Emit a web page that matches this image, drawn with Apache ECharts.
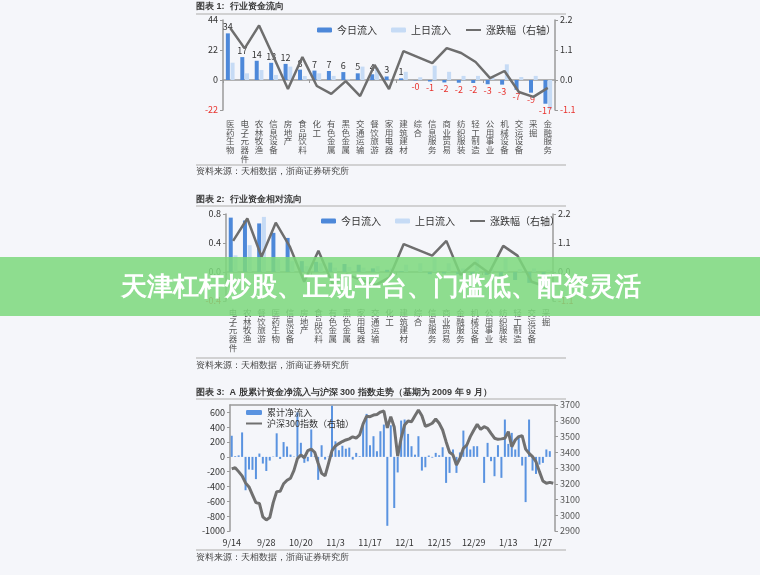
<!DOCTYPE html>
<html><head><meta charset="utf-8">
<script src="https://cdn.jsdelivr.net/npm/echarts@6/dist/echarts.min.js"></script>
<style>html,body{margin:0;padding:0;background:#f5f6fa;}#c{width:760px;height:575px;}</style>
</head><body><div id="c"></div>
<script>
const FONT = '"Noto Sans CJK SC","Noto Sans",sans-serif';
const RED = '#e8322d';
const DARK = '#4d88d9';
const LIGHT = '#c6dbf5';
const LINEC = '#6e6e6e';

// ---- Chart 1: 行业资金流向 ----
const cat1 = ['医药生物','电子元器件','农林牧渔','信息设备','房地产','食品饮料','化工','有色金属','黑色金属','交通运输','餐饮旅游','家用电器','建筑建材','综合','信息服务','商业贸易','纺织服装','轻工制造','公用事业','机械设备','交运设备','采掘','金融服务'];
const today1 = [34.2,16.8,14.1,12.6,11.8,7.6,6.9,6.6,5.8,4.9,4.2,2.6,1.2,-0.3,-1.1,-1.8,-2.0,-2.2,-3.1,-3.4,-7.2,-9.3,-17.4];
const prev1 = [12.7,4.9,7.3,3.7,9.8,2.9,4.9,3.0,0.5,9.8,9.0,0.4,6.0,2.0,10.5,6.0,3.0,3.0,2.0,11.5,2.2,3.0,-21.5];
const chg1 = [1.91,1.16,2.0,0.85,-0.33,0.84,-0.22,-0.51,-0.04,-0.59,0.55,-0.33,1.06,0.84,0.62,1.17,0.99,0.66,0.07,0.33,-0.44,-0.62,-0.29];
const left1 = [-22, 44, 22];
const right1 = [-1.1, 2.2, 1.1];

// ---- Chart 2: 行业资金相对流向 ----
const cat2 = ['电子元器件','农林牧渔','餐饮旅游','医药生物','信息设备','房地产','食品饮料','有色金属','黑色金属','家用电器','交通运输','化工','建筑建材','综合','信息服务','商业贸易','金融服务','机械设备','公用事业','纺织服装','轻工制造','交运设备','采掘'];
const today2 = [0.75,0.71,0.67,0.54,0.47,0.15,0.14,0.13,0.11,0.10,0.05,0.03,0.01,0.00,-0.03,-0.02,-0.03,-0.03,-0.04,-0.06,-0.11,-0.15,-0.20];
const prev2 = [0.23,0.37,0.76,0.18,0.15,0.08,0.12,0.06,0.07,0.06,0.08,0.05,0.10,0.12,0.20,0.12,0.05,0.17,0.04,0.19,0.04,0.05,0.03];
const chg2 = [1.18,2.03,0.58,1.87,0.95,-0.37,0.81,-0.45,-0.10,-0.30,-0.50,-0.20,1.06,0.84,0.62,1.18,-0.11,0.35,-0.04,0.99,0.62,-0.37,-0.56];
const left2 = [-0.4, 0.8, 0.4];
const right2 = [-1.1, 2.2, 1.1];

// ---- Chart 3: A股累计资金净流入与沪深300 ----
const dates3 = ['9/14','9/15','9/16','9/17','9/18','9/21','9/22','9/23','9/24','9/25',
 '9/28','9/29','9/30','10/9','10/12','10/13','10/14','10/15','10/16','10/19',
 '10/20','10/21','10/22','10/23','10/26','10/27','10/28','10/29','10/30','11/2',
 '11/3','11/4','11/5','11/6','11/9','11/10','11/11','11/12','11/13','11/16',
 '11/17','11/18','11/19','11/20','11/23','11/24','11/25','11/26','11/27','11/30',
 '12/1','12/2','12/3','12/4','12/7','12/8','12/9','12/10','12/11','12/14',
 '12/15','12/16','12/17','12/18','12/21','12/22','12/23','12/24','12/25','12/28',
 '12/29','12/30','12/31','1/4','1/5','1/6','1/7','1/8','1/11','1/12',
 '1/13','1/14','1/15','1/18','1/19','1/20','1/21','1/22','1/25','1/26',
 '1/27','1/28','1/29','2/1'];
const flow3 = [285,10,20,330,-450,-170,-175,-300,45,-90,
 -190,-50,5,318,-28,200,140,31,5,600,
 190,-80,-60,370,10,-310,157,-36,5,690,
 210,90,150,110,125,-36,54,10,440,580,
 157,279,76,346,436,-930,427,-690,-210,490,
 504,310,144,30,279,-185,-140,18,-10,54,
 22,130,-351,-216,100,-216,60,355,175,100,
 144,144,0,-351,189,-58,-261,158,-283,504,
 175,324,100,265,-117,-610,504,-185,-230,-104,
 -81,100,77,0];
const hs300 = [3294,3302,3277,3250,3205,3180,3130,3080,3075,2990,
 2970,2985,3080,3150,3152,3200,3222,3235,3285,3360,
 3383,3365,3410,3420,3400,3330,3266,3250,3330,3410,
 3440,3455,3468,3478,3485,3498,3490,3510,3580,3628,
 3626,3636,3640,3655,3662,3555,3626,3560,3375,3489,
 3573,3598,3594,3632,3668,3632,3565,3573,3584,3611,
 3584,3541,3467,3400,3383,3319,3362,3425,3446,3499,
 3540,3577,3545,3562,3552,3520,3489,3482,3485,3489,
 3531,3435,3478,3499,3505,3420,3393,3372,3340,3277,
 3218,3203,3209,3203];
const left3 = [-1000, 700, 200];
const right3 = [2900, 3700, 100];

const axisGray = '#9a9a9a';
function vertical(v){ return v.split('').join('\n'); }
function catAxisLabels(grid, data, margin){
  return {gridIndex:grid, type:'category', data:data, position:'bottom',
    axisLine:{show:false}, axisTick:{show:false},
    axisLabel:{interval:0, formatter:vertical, fontSize:8.5, lineHeight:8.9, margin:margin, color:'#555', fontFamily:FONT}};
}
function catAxisZero(grid, data){
  return {gridIndex:grid, type:'category', data:data, position:'top',
    axisLine:{show:true, onZero:true, lineStyle:{color:axisGray, width:1.5}},
    axisTick:{show:true, inside:true, length:3, lineStyle:{color:axisGray}},
    axisLabel:{show:false}};
}
function valAxis(grid, pos, r, digits){
  return {gridIndex:grid, type:'value', position:pos, min:r[0], max:r[1], interval:r[2],
    splitLine:{show:false},
    axisLine:{show:true, lineStyle:{color:axisGray, width:1.5}},
    axisTick:{show:true, length:3, lineStyle:{color:axisGray}},
    axisLabel:{fontSize:9, margin:5, fontFamily:FONT,
      formatter:function(v){return v.toFixed(digits);},
      color:function(v){return Number(v) < 0 ? RED : '#333';}}};
}
function labelled(arr){
  return arr.map(function(v){
    return {value:v, label:{position: v<0 ? 'bottom':'top', color: v<0 ? RED : '#333'}};
  });
}
function plain(v){ return String(v); }

const chart = echarts.init(document.getElementById('c'), null, {renderer:'canvas'});
const titleStyle = {fontSize:9, fontWeight:'bold', fill:'#3a3a3a', font:'bold 9px ' + FONT};
function txt(x, y, s, extra){
  return {type:'text', x:x, y:y, style:Object.assign({text:s, fontSize:9, fill:'#444', font:'9px ' + FONT, textVerticalAlign:'middle', verticalAlign:'middle'}, extra||{})};
}
function hline(y){ return {type:'line', shape:{x1:196, y1:y, x2:566, y2:y}, style:{stroke:'#c4c4c4', lineWidth:1.5}}; }
const lineLegendItem = function(name){ return {name:name, itemStyle:{opacity:0}}; };

const option = {
  backgroundColor:'#f5f6fa',
  animation:false,
  textStyle:{fontFamily:FONT},
  grid:[
    {left:223, top:20, width:332, height:90},
    {left:226, top:214, width:327, height:87},
    {left:230, top:405, width:325, height:126}
  ],
  legend:[
    {left:312, top:20, itemWidth:15, itemHeight:5, itemGap:14, textStyle:{fontSize:10, color:'#333', fontFamily:FONT},
      data:['今日流入','上日流入', lineLegendItem('涨跌幅（右轴）')]},
    {left:316, top:211, itemWidth:15, itemHeight:5, itemGap:14, textStyle:{fontSize:10, color:'#333', fontFamily:FONT},
      data:['今日流入','上日流入', lineLegendItem('涨跌幅（右轴）')]},
    {left:240, top:403, orient:'vertical', itemWidth:16, itemHeight:5, itemGap:2, textStyle:{fontSize:9, color:'#333', fontFamily:FONT},
      data:['累计净流入', lineLegendItem('沪深300指数（右轴）')]}
  ],
  xAxis:[
    catAxisLabels(0, cat1, 9),
    catAxisZero(0, cat1),
    catAxisLabels(1, cat2, 7),
    catAxisZero(1, cat2),
    {gridIndex:2, type:'category', data:dates3, position:'bottom',
      axisLine:{show:false}, axisTick:{show:false},
      axisLabel:{interval:9, fontSize:9, color:'#333', margin:7, fontFamily:FONT}},
    {gridIndex:2, type:'category', data:dates3, position:'top',
      axisLine:{show:true, onZero:true, lineStyle:{color:axisGray, width:1.5}},
      axisTick:{show:false}, axisLabel:{show:false}}
  ],
  yAxis:[
    valAxis(0, 'left', left1, 0),
    valAxis(0, 'right', right1, 1),
    valAxis(1, 'left', left2, 1),
    valAxis(1, 'right', right2, 1),
    {gridIndex:2, type:'value', position:'left', min:left3[0], max:left3[1], interval:left3[2],
      splitLine:{show:false}, axisLine:{show:true, lineStyle:{color:axisGray, width:1.5}},
      axisTick:{show:true, length:3, lineStyle:{color:axisGray}},
      axisLabel:{fontSize:9, color:'#333', margin:5, showMaxLabel:false, formatter:plain, fontFamily:FONT}},
    {gridIndex:2, type:'value', position:'right', min:right3[0], max:right3[1], interval:right3[2],
      splitLine:{show:false}, axisLine:{show:true, lineStyle:{color:axisGray, width:1.5}},
      axisTick:{show:true, length:3, lineStyle:{color:axisGray}},
      axisLabel:{fontSize:9, color:'#555', margin:5, formatter:plain, fontFamily:FONT}}
  ],
  series:[
    {name:'今日流入', type:'bar', xAxisIndex:0, yAxisIndex:0, data:labelled(today1), barWidth:4, barGap:'18%',
      itemStyle:{color:DARK},
      label:{show:true, fontSize:9, distance:2, fontFamily:FONT, formatter:function(p){return p.value.toFixed(0);}}},
    {name:'上日流入', type:'bar', xAxisIndex:0, yAxisIndex:0, data:prev1, barWidth:4, itemStyle:{color:LIGHT}},
    {name:'涨跌幅（右轴）', type:'line', xAxisIndex:0, yAxisIndex:1, data:chg1, symbol:'none',
      lineStyle:{color:LINEC, width:2.5}, itemStyle:{color:LINEC}, z:5},

    {name:'今日流入', type:'bar', xAxisIndex:2, yAxisIndex:2, data:today2, barWidth:4, barGap:'18%', itemStyle:{color:DARK}},
    {name:'上日流入', type:'bar', xAxisIndex:2, yAxisIndex:2, data:prev2, barWidth:4, itemStyle:{color:LIGHT}},
    {name:'涨跌幅（右轴）', type:'line', xAxisIndex:2, yAxisIndex:3, data:chg2, symbol:'none',
      lineStyle:{color:LINEC, width:2.5}, itemStyle:{color:LINEC}, z:5},

    {name:'累计净流入', type:'bar', xAxisIndex:4, yAxisIndex:4, data:flow3, barWidth:2, itemStyle:{color:'#5a93e0'}},
    {name:'沪深300指数（右轴）', type:'line', xAxisIndex:4, yAxisIndex:5, data:hs300, symbol:'none',
      lineStyle:{color:'#707070', width:3}, itemStyle:{color:'#707070'}, z:5}
  ],
  graphic:[
    txt(196, 7, '图表 1:  行业资金流向', titleStyle),
    hline(14),
    hline(165),
    txt(196, 172, '资料来源：天相数据，浙商证券研究所'),
    txt(196, 200, '图表 2:  行业资金相对流向', titleStyle),
    hline(206),
    hline(358),
    txt(196, 366, '资料来源：天相数据，浙商证券研究所'),
    txt(196, 393, '图表 3:  A 股累计资金净流入与沪深 300 指数走势（基期为 2009 年 9 月）', titleStyle),
    hline(399),
    hline(550),
    txt(196, 558, '资料来源：天相数据，浙商证券研究所'),
    {type:'rect', shape:{x:0, y:257, width:760, height:59}, style:{fill:'rgba(125,216,125,0.86)'}, z:100},
    {type:'text', x:381, y:288, z:101, style:{text:'天津杠杆炒股、正规平台、门槛低、配资灵活', fill:'#ffffff',
      font:'bold 26px ' + FONT, fontSize:26, fontWeight:'bold', textAlign:'center', align:'center', textVerticalAlign:'middle', verticalAlign:'middle'}}
  ]
};
chart.setOption(option);
</script></body></html>
